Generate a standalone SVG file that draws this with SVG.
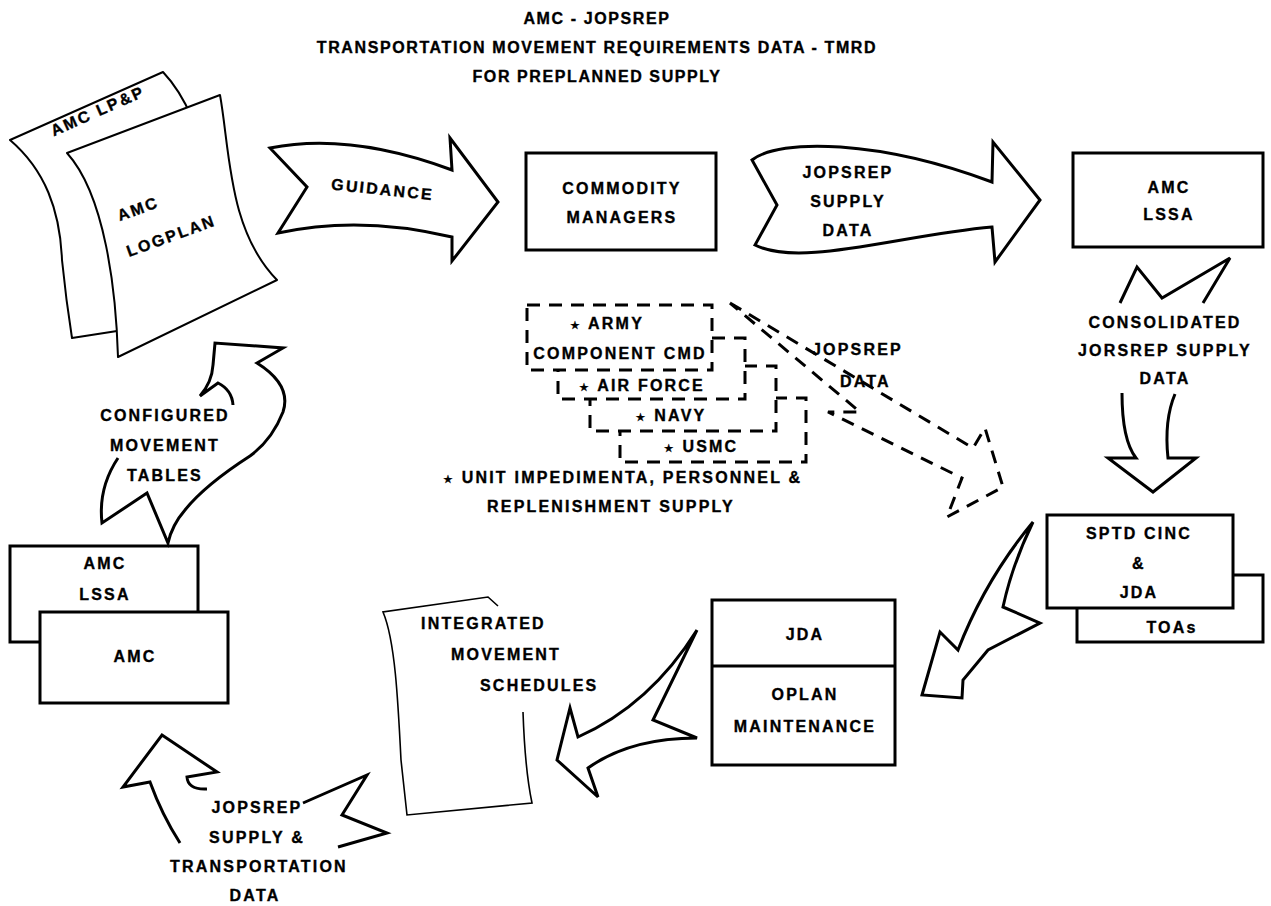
<svg xmlns="http://www.w3.org/2000/svg" width="1271" height="906" viewBox="0 0 1271 906">
<style>
.t{font-family:"Liberation Sans",Arial,Helvetica,sans-serif;font-weight:bold;font-size:16px;letter-spacing:2.2px;text-anchor:middle;fill:#000;stroke:#000;stroke-width:0.35px}
.s{text-anchor:start}
.ti{letter-spacing:1.6px}
.st{font-family:"DejaVu Sans",sans-serif;font-size:11px}
.box{fill:#fff;stroke:#000;stroke-width:3}
.ar{fill:#fff;stroke:#000;stroke-width:3;stroke-linejoin:miter}
.ln{fill:none;stroke:#000;stroke-width:3;stroke-linejoin:miter}
.doc{fill:#fff;stroke:#000;stroke-width:2;stroke-linejoin:round}
.docl{fill:none;stroke:#000;stroke-width:1.6}
.dbox{fill:#fff;stroke:#000;stroke-width:3;stroke-dasharray:13 9}
.dash{fill:none;stroke:#000;stroke-width:3;stroke-dasharray:13 9}
</style>
<rect width="1271" height="906" fill="#fff"/>

<g id="title">
<text class="t ti" x="597" y="24">AMC - JOPSREP</text>
<text class="t ti" x="597" y="53">TRANSPORTATION MOVEMENT REQUIREMENTS DATA - TMRD</text>
<text class="t ti" x="597" y="82">FOR PREPLANNED SUPPLY</text>
</g>

<g id="amc-lpp">
<path class="doc" d="M 10,140 L 163,72 Q 180,90 192,118 L 175,322 L 72,338 Q 66,300 62,260 C 60,210 45,170 10,140 Z"/>
<text class="t" transform="translate(100,116) rotate(-24)">AMC LP&amp;P</text>
</g>
<g id="amc-logplan">
<path class="doc" d="M 67,153 L 220,95 C 230,150 228,230 277,280 L 118,357 C 116,290 105,195 67,153 Z"/>
<text class="t" transform="translate(140,214) rotate(-20)">AMC</text>
<text class="t" transform="translate(173,241) rotate(-20)">LOGPLAN</text>
</g>

<g id="commodity-managers">
<rect class="box" x="526" y="153" width="190" height="97"/>
<text class="t" x="622" y="194">COMMODITY</text>
<text class="t" x="622" y="223">MANAGERS</text>
</g>

<g id="amc-lssa-top">
<rect class="box" x="1073" y="153" width="190" height="94"/>
<text class="t" x="1169" y="193">AMC</text>
<text class="t" x="1169" y="220">LSSA</text>
</g>

<g id="sptd-cinc">
<rect class="box" x="1077" y="575" width="186" height="67"/>
<text class="t" x="1172" y="633">TOAs</text>
<rect class="box" x="1047" y="515" width="186" height="93"/>
<text class="t" x="1139" y="539">SPTD CINC</text>
<text class="t" x="1139" y="569">&amp;</text>
<text class="t" x="1139" y="598">JDA</text>
</g>

<g id="jda-oplan">
<rect class="box" x="712" y="600" width="183" height="165"/>
<line x1="712" y1="666" x2="895" y2="666" stroke="#000" stroke-width="3"/>
<text class="t" x="805" y="640">JDA</text>
<text class="t" x="805" y="700">OPLAN</text>
<text class="t" x="805" y="732">MAINTENANCE</text>
</g>

<g id="integrated-schedules">
<path class="docl" d="M 498,606 L 488,597 L 383,612 C 395,640 398,700 401,760 L 407,815 L 532,803 Q 525,770 523,712"/>
<text class="t s" x="421" y="629">INTEGRATED</text>
<text class="t s" x="451" y="660">MOVEMENT</text>
<text class="t s" x="480" y="691">SCHEDULES</text>
</g>

<g id="amc-lssa-bottom">
<rect class="box" x="10" y="546" width="188" height="96"/>
<text class="t" x="105" y="569">AMC</text>
<text class="t" x="105" y="600">LSSA</text>
<rect class="box" x="40" y="612" width="188" height="91"/>
<text class="t" x="135" y="662">AMC</text>
</g>

<g id="component-commands">
<g id="usmc">
<rect class="dbox" x="620" y="398" width="186" height="64"/>
<text class="t" x="701" y="452"><tspan class="st">★</tspan> USMC</text>
</g>
<g id="navy">
<rect class="dbox" x="590" y="366" width="186" height="65"/>
<text class="t" x="671" y="421"><tspan class="st">★</tspan> NAVY</text>
</g>
<g id="air-force">
<rect class="dbox" x="558" y="338" width="187" height="61"/>
<text class="t" x="642" y="391"><tspan class="st">★</tspan> AIR FORCE</text>
</g>
<g id="army">
<rect class="dbox" x="527" y="305" width="185" height="65"/>
<text class="t" x="607" y="329"><tspan class="st">★</tspan> ARMY</text>
<text class="t" x="620" y="359">COMPONENT CMD</text>
</g>
</g>

<g id="footnote">
<text class="t s" x="443" y="483"><tspan class="st">★</tspan> UNIT IMPEDIMENTA, PERSONNEL &amp;</text>
<text class="t s" x="487" y="512">REPLENISHMENT SUPPLY</text>
</g>

<g id="connectors">
<g id="guidance">
<path class="ar" d="M 270,148 Q 350,132 452,170 L 450,138 L 498,202 L 452,261 L 452,237 Q 360,215 278,233 L 307,187 Z"/>
<text class="t" transform="translate(382,195) rotate(6)">GUIDANCE</text>
</g>
<g id="jopsrep-supply-data">
<path class="ar" d="M 752,160 C 780,138 880,140 992,182 L 993,142 L 1040,200 L 995,262 L 992,227 C 900,235 800,268 755,245 L 777,205 Z"/>
<text class="t" x="848" y="178">JOPSREP</text>
<text class="t" x="848" y="207">SUPPLY</text>
<text class="t" x="848" y="236">DATA</text>
</g>
<g id="consolidated">
<path class="ln" d="M 1120,303 L 1137,267 L 1162,298 L 1230,258 L 1203,303"/>
<path class="ar" d="M 1122,393 Q 1122,440 1136,458 L 1108,458 L 1153,492 L 1196,458 L 1168,458 Q 1164,420 1175,394"/>
<text class="t" x="1165" y="328">CONSOLIDATED</text>
<text class="t" x="1165" y="356">JORSREP SUPPLY</text>
<text class="t" x="1165" y="384">DATA</text>
</g>
<g id="jopsrep-data">
<path class="dash" d="M 730,303 L 973,448 L 985,428 L 1003,487 L 947,517 L 962,478 L 828,412 L 860,412 Z"/>
<text class="t s" x="812" y="355">JOPSREP</text>
<text class="t s" x="840" y="387">DATA</text>
</g>
<g id="sptd-to-jda">
<path class="ar" d="M 1033,522 Q 985,580 958,650 L 940,632 L 922,695 L 962,698 L 963,680 L 988,650 L 1040,623 L 1003,607 Q 1012,565 1033,522 Z"/>
</g>
<g id="jda-to-schedules">
<path class="ar" d="M 697,630 L 653,720 L 697,738 Q 630,738 588,768 L 598,797 L 557,760 L 570,708 L 578,737 Q 650,705 697,630 Z"/>
</g>
<g id="configured">
<path class="ln" d="M 233,405 Q 232,390 218,383 L 200,396 Q 212,382 213,365 L 215,343 L 283,348 L 257,363 Q 292,385 283,412 Q 272,440 250,456 Q 205,485 185,510 Q 172,525 168,543 L 147,493 L 102,523 Q 98,488 118,458"/>
<text class="t" x="165" y="421">CONFIGURED</text>
<text class="t" x="165" y="451">MOVEMENT</text>
<text class="t" x="165" y="481">TABLES</text>
</g>
<g id="jopsrep-transport">
<path class="ln" d="M 180,843 Q 162,815 150,782 L 123,787 L 162,735 L 217,772 L 187,777 Q 188,790 207,789"/>
<path class="ln" d="M 303,803 L 367,775 L 342,815 L 387,833 L 338,847"/>
<text class="t" x="257" y="813">JOPSREP</text>
<text class="t" x="257" y="843">SUPPLY &amp;</text>
<text class="t" x="259" y="872">TRANSPORTATION</text>
<text class="t" x="255" y="901">DATA</text>
</g>
</g>
</svg>
